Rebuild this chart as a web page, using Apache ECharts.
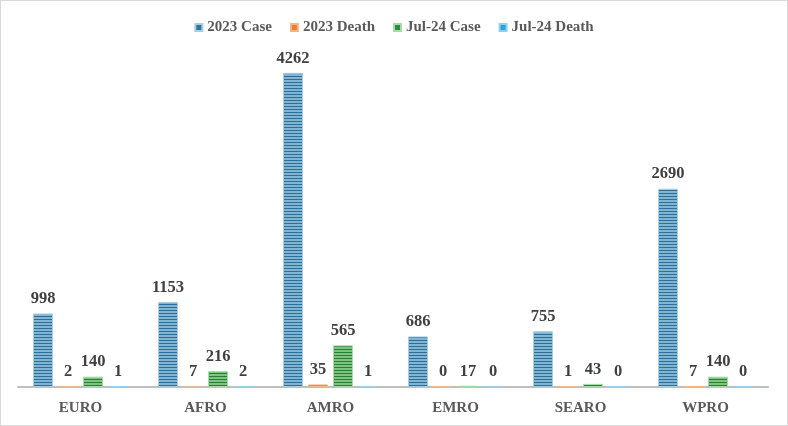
<!DOCTYPE html>
<html><head><meta charset="utf-8">
<script src="https://cdn.jsdelivr.net/npm/echarts@6/dist/echarts.min.js"></script>
<style>
html,body{margin:0;padding:0;background:#fff;}
#wrap{position:absolute;left:0;top:0;width:786px;height:424px;border:1px solid #d9d9d9;}
#c{width:786px;height:424px;}
</style></head><body>
<div id="wrap"><div id="c"></div></div>
<script>
const categories = ['EURO','AFRO','AMRO','EMRO','SEARO','WPRO'];
const seriesNames = ['2023 Case','2023 Death','Jul-24 Case','Jul-24 Death'];
const case2023 = [998, 1153, 4262, 686, 755, 2690];
const death2023 = [2, 7, 35, 0, 1, 7];
const caseJul24 = [140, 216, 565, 17, 43, 140];
const deathJul24 = [1, 2, 1, 0, 0, 0];

function stripes(dark, light){
  const cv = document.createElement('canvas');
  cv.width = 4; cv.height = 3;
  const ctx = cv.getContext('2d');
  ctx.fillStyle = light; ctx.fillRect(0,0,4,3);
  ctx.fillStyle = dark; ctx.fillRect(0,0,4,1);
  return {image: cv, repeat: 'repeat'};
}
const fills = [
  stripes('#2f6f97','#80b5d4'),
  stripes('#e8742c','#f5a977'),
  stripes('#2a7d34','#7cc47f'),
  stripes('#1f9ad6','#7ccaf0')
];
const borders = ['#a8cde2','#f5b58a','#a8dbaa','#8fd0f0'];
const legendColors = ['#2e75a0','#ed7d31','#2e8b3a','#29a3dd'];
const datas = [case2023, death2023, caseJul24, deathJul24];

const chart = echarts.init(document.getElementById('c'), null, {renderer:'canvas'});
chart.setOption({
  animation:false,
  color: legendColors,
  legend:{
    top: 14, left: 'center', itemWidth: 7, itemHeight: 7, itemGap: 18,
    icon: 'rect',
    textStyle:{fontFamily:'Liberation Serif', fontWeight:'bold', fontSize:15, color:'#595959'},
    data: seriesNames.map((n,i)=>({name:n, itemStyle:{color:legendColors[i]}}))
  },
  grid:{left:17, right:19, top:58, bottom:38, containLabel:false},
  xAxis:{
    type:'category', data:categories,
    axisLine:{lineStyle:{color:'#bfbfbf', width:2}},
    axisTick:{show:false},
    axisLabel:{fontFamily:'Liberation Serif', fontWeight:'bold', fontSize:15, color:'#595959', margin:14}
  },
  yAxis:{type:'value', min:0, max:4450, show:false, splitLine:{show:false}},
  series: seriesNames.map((n,i)=>({
    name:n, type:'bar', data:datas[i], barWidth:20, barGap:'25%', barCategoryGap:'24%',
    itemStyle:{color:fills[i], borderColor:borders[i], borderWidth:1},
    label:{show:true, position:'top', distance:6, fontFamily:'Liberation Serif', fontWeight:'bold', fontSize:16.5, color:'#404040'}
  }))
});
</script>
</body></html>
